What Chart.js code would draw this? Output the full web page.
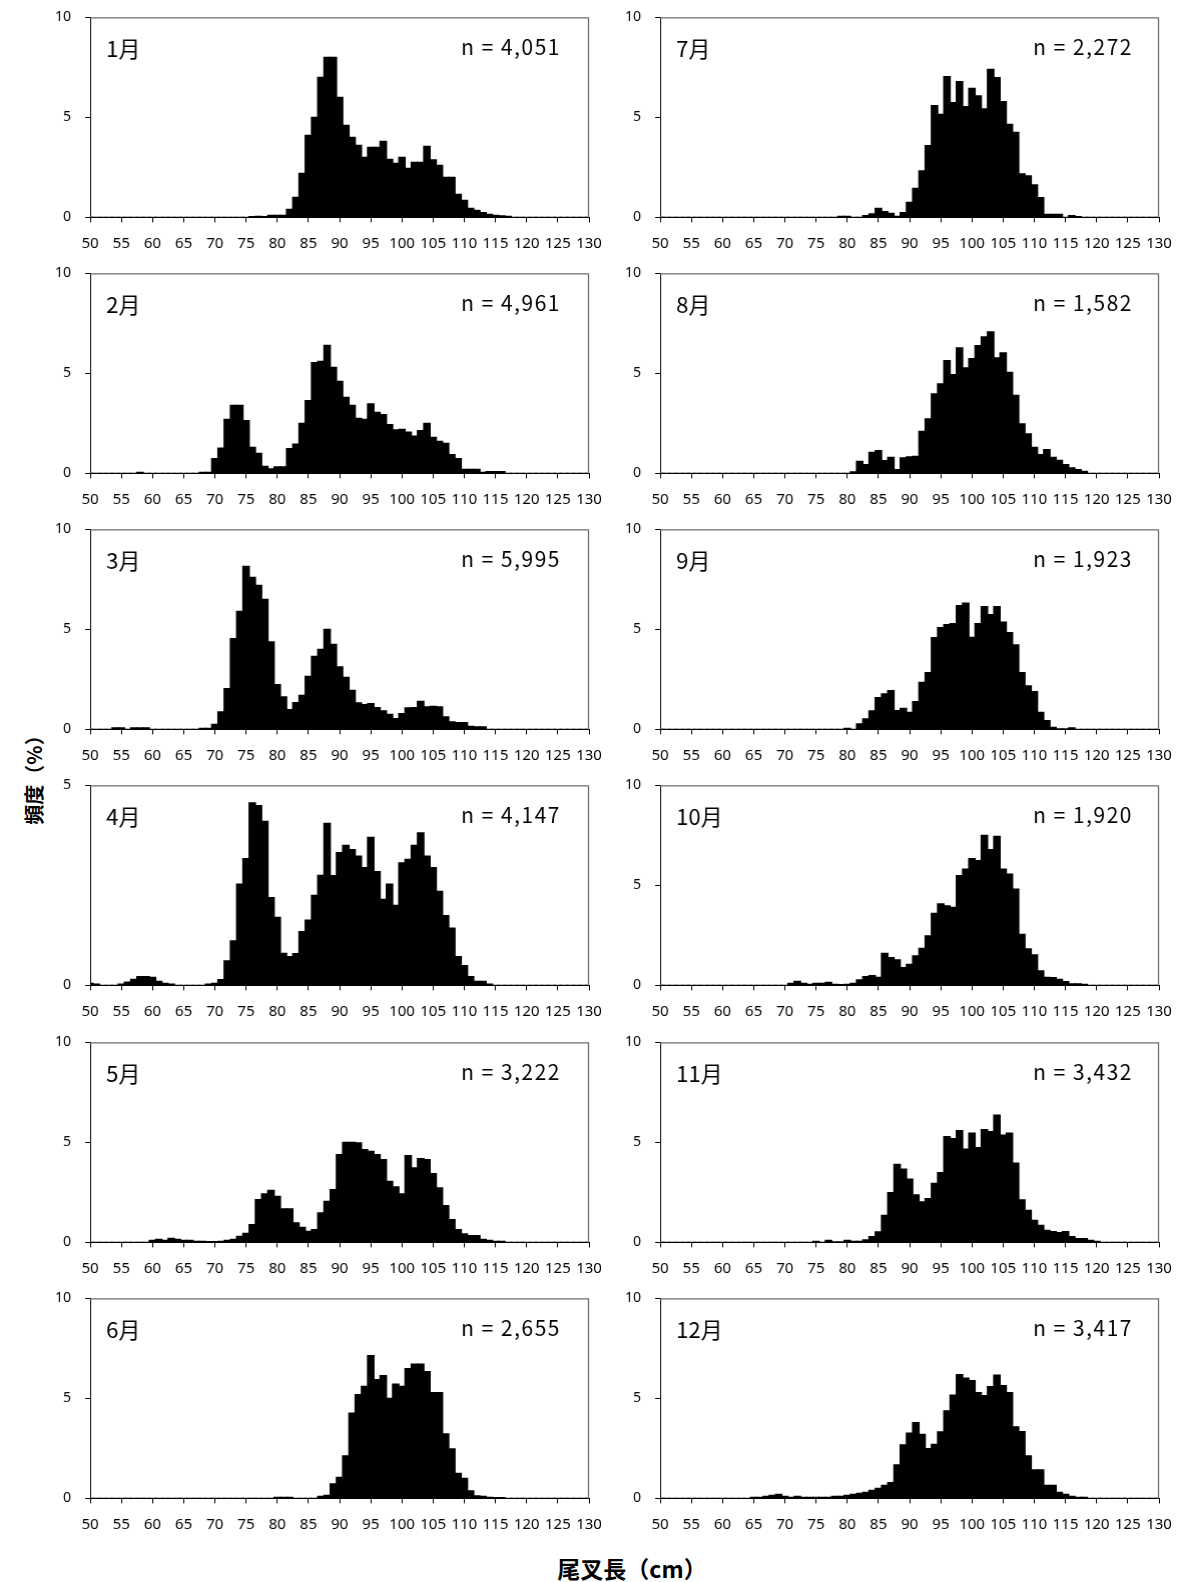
<!DOCTYPE html>
<html lang="ja">
<head>
<meta charset="utf-8">
<title>月別尾叉長組成</title>
<script src="https://cdn.jsdelivr.net/npm/chart.js@4.4.1/dist/chart.umd.min.js"></script>
<style>
  html, body { margin: 0; padding: 0; background: #fff; }
  #page { position: relative; width: 1181px; height: 1582px; overflow: hidden; background: #fff; }
  #page canvas { position: absolute; }
  .axis-title {
    position: absolute;
    font-family: "Noto Sans CJK JP", sans-serif;
    font-weight: bold;
    color: #000;
    white-space: nowrap;
  }
  #yTitle { left: 33px; top: 775px; font-size: 20px; transform: translate(-50%, -50%) rotate(-90deg); }
  #xTitle { left: 632px; top: 1568px; font-size: 23px; transform: translate(-50%, -50%); }
</style>
</head>
<body>
<div id="page">
  <div id="yTitle" class="axis-title">頻度（%）</div>
  <div id="xTitle" class="axis-title">尾叉長（cm）</div>
</div>
<script>
// Fork length classes (cm)
const lengths = [
    50, 51, 52, 53, 54, 55, 56, 57, 58, 59,
    60, 61, 62, 63, 64, 65, 66, 67, 68, 69,
    70, 71, 72, 73, 74, 75, 76, 77, 78, 79,
    80, 81, 82, 83, 84, 85, 86, 87, 88, 89,
    90, 91, 92, 93, 94, 95, 96, 97, 98, 99,
    100, 101, 102, 103, 104, 105, 106, 107, 108, 109,
    110, 111, 112, 113, 114, 115, 116, 117, 118, 119,
    120, 121, 122, 123, 124, 125, 126, 127, 128, 129,
    130
];

const months = ['1月', '2月', '3月', '4月', '5月', '6月', '7月', '8月', '9月', '10月', '11月', '12月'];
const sampleSizes = ['4,051', '4,961', '5,995', '4,147', '3,222', '2,655', '2,272', '1,582', '1,923', '1,920', '3,432', '3,417'];
const yMax = [10, 10, 10, 5, 10, 10, 10, 10, 10, 10, 10, 10];

// Frequency (%) per length class
const freqJan = [
    0, 0, 0, 0, 0, 0, 0, 0, 0, 0,
    0, 0, 0, 0, 0, 0, 0, 0, 0, 0,
    0, 0, 0, 0, 0, 0, 0.03, 0.05, 0.03, 0.1,
    0.1, 0.1, 0.4, 1.0, 2.2, 4.1, 5.0, 7.0, 8.0, 8.0,
    6.0, 4.6, 4.0, 3.6, 3.0, 3.5, 3.5, 3.8, 2.9, 2.7,
    3.0, 2.45, 2.75, 2.75, 3.55, 2.87, 2.6, 2.0, 2.0, 1.15,
    0.85, 0.45, 0.35, 0.23, 0.15, 0.1, 0.07, 0.05, 0, 0,
    0, 0, 0, 0, 0, 0, 0, 0, 0, 0,
    0
];
const freqFeb = [
    0, 0, 0, 0, 0, 0, 0, 0, 0.05, 0,
    0, 0, 0, 0, 0, 0, 0, 0, 0.05, 0.05,
    0.73, 1.26, 2.7, 3.4, 3.4, 2.64, 1.3, 1.0, 0.35, 0.22,
    0.32, 0.32, 1.23, 1.46, 2.5, 3.63, 5.54, 5.6, 6.4, 5.3,
    4.6, 3.8, 3.4, 2.75, 2.7, 3.47, 3.05, 2.94, 2.44, 2.17,
    2.2, 2.06, 1.86, 2.14, 2.5, 1.8, 1.6, 1.5, 0.93, 0.73,
    0.2, 0.2, 0.2, 0.05, 0.08, 0.08, 0.08, 0, 0, 0,
    0, 0, 0, 0, 0, 0, 0, 0, 0, 0,
    0
];
const freqMar = [
    0, 0, 0, 0, 0.07, 0.07, 0, 0.07, 0.07, 0.07,
    0, 0, 0, 0, 0, 0, 0, 0, 0.05, 0.05,
    0.25, 0.87, 2.03, 4.53, 5.9, 8.15, 7.6, 7.2, 6.5, 4.37,
    2.23, 1.62, 0.98, 1.33, 1.7, 2.65, 3.65, 4.0, 5.0, 4.25,
    3.12, 2.6, 1.95, 1.32, 1.23, 1.28, 1.08, 0.92, 0.75, 0.53,
    0.78, 1.07, 1.08, 1.4, 1.12, 1.15, 1.12, 0.62, 0.37, 0.33,
    0.33, 0.15, 0.12, 0.12, 0, 0, 0, 0, 0, 0,
    0, 0, 0, 0, 0, 0, 0, 0, 0, 0,
    0
];
const freqApr = [
    0.05, 0.03, 0, 0, 0, 0.03, 0.08, 0.15, 0.22, 0.22,
    0.2, 0.1, 0.05, 0.03, 0, 0, 0, 0, 0, 0.03,
    0.05, 0.14, 0.61, 1.11, 2.53, 3.17, 4.56, 4.49, 4.1, 2.19,
    1.7, 0.8, 0.72, 0.79, 1.34, 1.63, 2.25, 2.75, 4.05, 2.74,
    3.32, 3.5, 3.39, 3.23, 2.94, 3.7, 2.84, 2.15, 2.53, 2.0,
    3.06, 3.15, 3.5, 3.81, 3.23, 2.94, 2.35, 1.74, 1.43, 0.72,
    0.49, 0.22, 0.1, 0.1, 0.03, 0, 0, 0, 0, 0,
    0, 0, 0, 0, 0, 0, 0, 0, 0, 0,
    0
];
const freqMay = [
    0, 0, 0, 0, 0, 0, 0, 0, 0, 0,
    0.1, 0.15, 0.1, 0.2, 0.15, 0.1, 0.1, 0.05, 0.05, 0.03,
    0.03, 0.05, 0.1, 0.15, 0.3, 0.45, 0.88, 2.13, 2.42, 2.6,
    2.3, 1.67, 1.67, 0.97, 0.75, 0.55, 0.63, 1.47, 2.05, 2.63,
    4.38, 5.0, 5.0, 4.97, 4.63, 4.55, 4.38, 4.13, 3.05, 2.77,
    2.42, 4.33, 3.72, 4.18, 4.13, 3.43, 2.72, 1.83, 1.13, 0.63,
    0.42, 0.33, 0.33, 0.15, 0.1, 0.05, 0.05, 0, 0, 0,
    0, 0, 0, 0, 0, 0, 0, 0, 0, 0,
    0
];
const freqJun = [
    0, 0, 0, 0, 0, 0, 0, 0, 0, 0,
    0, 0, 0, 0, 0, 0, 0, 0, 0, 0,
    0, 0, 0, 0, 0, 0, 0, 0, 0, 0,
    0.05, 0.05, 0.05, 0, 0, 0, 0, 0.1, 0.15, 0.72,
    1.05, 2.12, 4.26, 5.18, 5.6, 7.13, 5.93, 6.13, 5.0, 5.71,
    5.6, 6.48, 6.71, 6.71, 6.34, 5.29, 5.29, 3.22, 2.47, 1.25,
    1.0, 0.37, 0.12, 0.1, 0.05, 0.03, 0.03, 0, 0, 0,
    0, 0, 0, 0, 0, 0, 0, 0, 0, 0,
    0
];
const freqJul = [
    0, 0, 0, 0, 0, 0, 0, 0, 0, 0,
    0, 0, 0, 0, 0, 0, 0, 0, 0, 0,
    0, 0, 0, 0, 0, 0, 0, 0, 0, 0.05,
    0.05, 0, 0, 0.08, 0.17, 0.45, 0.28, 0.2, 0.05, 0.23,
    0.75, 1.45, 2.32, 3.58, 5.58, 5.15, 7.03, 5.73, 6.78, 5.53,
    6.45, 6.07, 5.42, 7.4, 6.98, 5.78, 4.65, 4.25, 2.17, 2.07,
    1.62, 0.98, 0.15, 0.15, 0.15, 0, 0.08, 0.03, 0, 0,
    0, 0, 0, 0, 0, 0, 0, 0, 0, 0,
    0
];
const freqAug = [
    0, 0, 0, 0, 0, 0, 0, 0, 0, 0,
    0, 0, 0, 0, 0, 0, 0, 0, 0, 0,
    0, 0, 0, 0, 0, 0, 0, 0, 0, 0,
    0, 0.07, 0.6, 0.43, 1.05, 1.13, 0.63, 0.8, 0.18, 0.77,
    0.82, 0.85, 2.1, 2.72, 3.97, 4.47, 5.63, 4.93, 6.27, 5.27,
    5.73, 6.38, 6.82, 7.07, 5.77, 6.02, 5.05, 3.9, 2.47, 1.97,
    1.3, 0.93, 1.18, 0.8, 0.65, 0.43, 0.27, 0.18, 0.1, 0,
    0, 0, 0, 0, 0, 0, 0, 0, 0, 0,
    0
];
const freqSep = [
    0, 0, 0, 0, 0, 0, 0, 0, 0, 0,
    0, 0, 0, 0, 0, 0, 0, 0, 0, 0,
    0, 0, 0, 0, 0, 0, 0, 0, 0, 0,
    0.05, 0, 0.27, 0.52, 0.92, 1.58, 1.77, 1.93, 0.93, 1.05,
    0.85, 1.38, 2.35, 2.84, 4.59, 5.09, 5.23, 5.28, 6.19, 6.31,
    4.6, 5.28, 6.14, 5.73, 6.14, 5.36, 4.84, 4.22, 2.84, 2.17,
    1.89, 0.85, 0.43, 0.1, 0.02, 0.02, 0.07, 0, 0, 0,
    0, 0, 0, 0, 0, 0, 0, 0, 0, 0,
    0
];
const freqOct = [
    0, 0, 0, 0, 0, 0, 0, 0, 0, 0,
    0, 0, 0, 0, 0, 0, 0, 0, 0, 0,
    0, 0.1, 0.2, 0.1, 0.05, 0.1, 0.1, 0.15, 0.05, 0.03,
    0.05, 0.1, 0.27, 0.43, 0.48, 0.4, 1.6, 1.39, 1.27, 0.88,
    1.05, 1.47, 1.85, 2.47, 3.6, 4.07, 3.97, 3.9, 5.48, 5.81,
    6.33, 6.23, 7.5, 6.78, 7.45, 5.81, 5.56, 4.81, 2.55, 1.82,
    1.52, 0.72, 0.4, 0.38, 0.3, 0.18, 0.07, 0.07, 0.05, 0,
    0, 0, 0, 0, 0, 0, 0, 0, 0, 0,
    0
];
const freqNov = [
    0, 0, 0, 0, 0, 0, 0, 0, 0, 0,
    0, 0, 0, 0, 0, 0, 0, 0, 0, 0,
    0, 0, 0, 0, 0, 0.05, 0, 0.1, 0.02, 0.02,
    0.1, 0.05, 0.05, 0.12, 0.28, 0.52, 1.35, 2.49, 3.9, 3.66,
    3.16, 2.37, 2.02, 2.19, 2.95, 3.49, 5.28, 5.19, 5.58, 4.66,
    5.46, 4.74, 5.63, 5.54, 6.36, 5.36, 5.46, 3.96, 2.12, 1.6,
    1.1, 0.85, 0.6, 0.53, 0.48, 0.53, 0.28, 0.18, 0.18, 0.1,
    0.05, 0, 0, 0, 0, 0, 0, 0, 0, 0,
    0
];
const freqDec = [
    0, 0, 0, 0, 0, 0, 0, 0, 0, 0,
    0, 0, 0, 0, 0, 0.05, 0.05, 0.1, 0.15, 0.2,
    0.1, 0.05, 0.1, 0.05, 0.05, 0.05, 0.05, 0.05, 0.1, 0.1,
    0.15, 0.2, 0.25, 0.3, 0.4, 0.5, 0.65, 0.78, 1.67, 2.67,
    3.26, 3.79, 3.2, 2.49, 2.7, 3.32, 4.37, 5.16, 6.18, 6.01,
    5.88, 5.29, 5.13, 5.59, 6.16, 5.63, 5.29, 3.57, 3.34, 2.12,
    1.42, 1.42, 0.65, 0.65, 0.3, 0.2, 0.1, 0.05, 0.05, 0,
    0, 0, 0, 0, 0, 0, 0, 0, 0, 0,
    0
];

const monthFreqs = [freqJan, freqFeb, freqMar, freqApr, freqMay, freqJun,
                    freqJul, freqAug, freqSep, freqOct, freqNov, freqDec];

// Panel layout (page pixels)
const PLOT_W = 498;
const PLOT_H = 200;
const Y_AXIS_W = 90;
const X_AXIS_H = 42;
const PAD_TOP = 10;
const PAD_RIGHT = 16;
const colLeft = [90, 660];
const rowTop = [17, 273, 529, 785, 1042, 1298];
const xTickFont = { family: '"Noto Sans", sans-serif', size: 15 };
const yTickFont = { family: '"Noto Sans", sans-serif', size: 14 };

// Draws the grey frame plus the month and n labels inside each plot
const panelDecor = {
    id: 'panelDecor',
    afterDraw(chart, args, opts) {
        const ctx = chart.ctx;
        const a = chart.chartArea;
        ctx.save();
        ctx.strokeStyle = '#6e6e6e';
        ctx.lineWidth = 1.3;
        ctx.beginPath();
        ctx.moveTo(a.left, a.top + 0.5);
        ctx.lineTo(a.right - 0.5, a.top + 0.5);
        ctx.lineTo(a.right - 0.5, a.bottom);
        ctx.stroke();

        ctx.fillStyle = '#000';
        ctx.textBaseline = 'middle';
        ctx.textAlign = 'left';
        ctx.font = '22px "Noto Sans CJK JP", sans-serif';
        ctx.fillText(opts.month, a.left + 16, a.top + 31);
        ctx.textAlign = 'right';
        ctx.font = '21px "Noto Sans CJK JP", sans-serif';
        ctx.letterSpacing = '1.5px';
        ctx.fillText('n = ' + opts.n, a.right - opts.nInset, a.top + 30);
        ctx.restore();
    }
};

function makePanel(m) {
    const col = m < 6 ? 0 : 1;
    const row = m % 6;
    const canvas = document.createElement('canvas');
    canvas.width = Y_AXIS_W + PLOT_W + PAD_RIGHT;
    canvas.height = PAD_TOP + PLOT_H + X_AXIS_H;
    canvas.style.left = (colLeft[col] - Y_AXIS_W) + 'px';
    canvas.style.top = (rowTop[row] - PAD_TOP) + 'px';
    document.getElementById('page').appendChild(canvas);

    const values = monthFreqs[m];

    const chart = new Chart(canvas.getContext('2d'), {
        type: 'bar',
        data: {
            datasets: [{
                data: lengths.map((x, i) => ({ x: x, y: values[i] })),
                backgroundColor: '#000',
                borderWidth: 0,
                inflateAmount: 0.7,
                barPercentage: 1,
                categoryPercentage: 1
            }]
        },
        options: {
            responsive: false,
            maintainAspectRatio: false,
            animation: false,
            devicePixelRatio: 1,
            layout: { padding: { top: PAD_TOP, right: PAD_RIGHT, left: 0, bottom: 0 } },
            plugins: {
                legend: { display: false },
                tooltip: { enabled: false },
                panelDecor: { month: months[m], n: sampleSizes[m], nInset: col === 0 ? 28 : 26 }
            },
            scales: {
                x: {
                    type: 'linear',
                    min: 50,
                    max: 130,
                    offset: false,
                    ticks: {
                        stepSize: 5,
                        autoSkip: false,
                        maxRotation: 0,
                        color: '#000',
                        font: xTickFont,
                        padding: 12
                    },
                    grid: { offset: false, drawOnChartArea: false, drawTicks: true, tickLength: 5, color: '#000' },
                    border: { display: true, color: '#000', width: 1 },
                    afterFit: function(scale) { scale.height = X_AXIS_H; }
                },
                y: {
                    min: 0,
                    max: yMax[m],
                    ticks: {
                        stepSize: 5,
                        color: '#000',
                        font: yTickFont,
                        padding: 14
                    },
                    grid: { drawOnChartArea: false, drawTicks: true, tickLength: 5, color: '#000' },
                    border: { display: true, color: '#000', width: 1 },
                    afterFit: function(scale) { scale.width = Y_AXIS_W; }
                }
            }
        },
        plugins: [panelDecor]
    });

    // Chart.js may reserve extra room around the plot; stretch the canvas so the
    // plot box gets its full size, then move the canvas so the box sits in place
    const area = chart.chartArea;
    const missingW = PLOT_W - (area.right - area.left);
    const missingH = PLOT_H - (area.bottom - area.top);
    if (Math.abs(missingW) > 0.5 || Math.abs(missingH) > 0.5) {
        chart.resize(canvas.width + missingW, canvas.height + missingH);
    }
    canvas.style.top = (rowTop[row] - chart.chartArea.top) + 'px';
    canvas.style.left = (colLeft[col] - chart.chartArea.left) + 'px';
}

for (let m = 0; m < 12; m++) {
    makePanel(m);
}
</script>
</body>
</html>
